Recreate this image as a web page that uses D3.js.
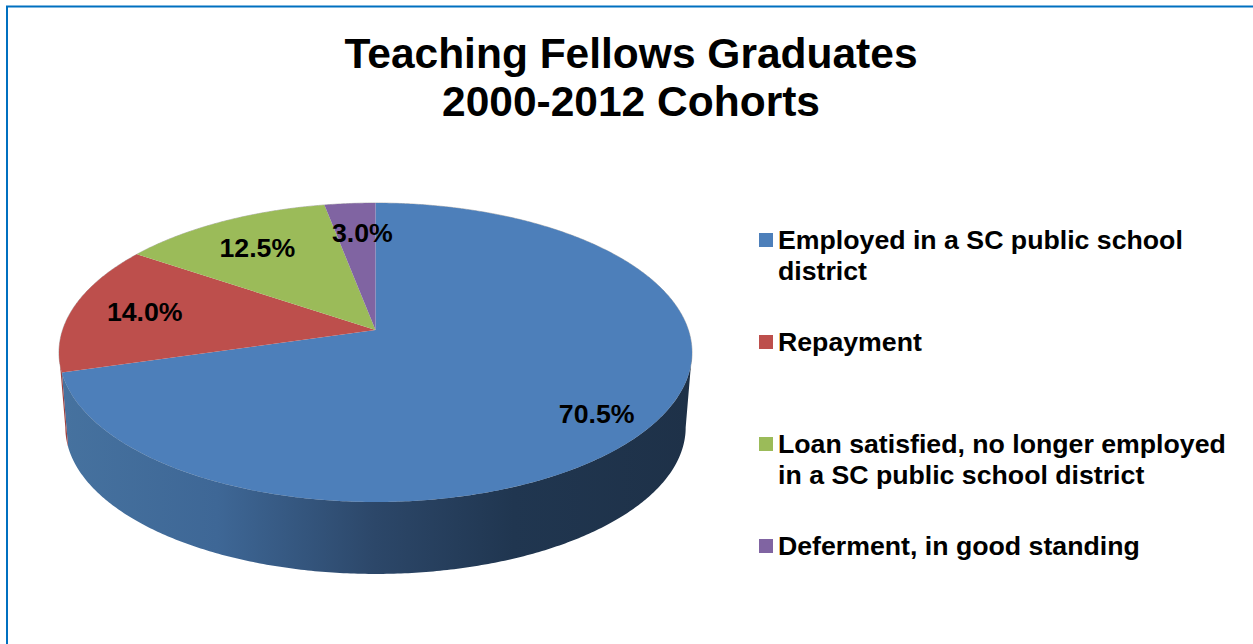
<!DOCTYPE html>
<html>
<head>
<meta charset="utf-8">
<title>Teaching Fellows Graduates</title>
<script src="https://cdn.jsdelivr.net/npm/d3@7"></script>
<style>
  html, body { margin: 0; padding: 0; background: #fff; overflow: hidden; }
  text { font-family: "Liberation Sans", Arial, sans-serif; font-weight: 700; fill: #000; }
</style>
</head>
<body>
<div id="chart"></div>
<script>
const categories = ["Employed in a SC public school district", "Repayment", "Loan satisfied, no longer employed in a SC public school district", "Deferment, in good standing"];
const legendLines = [["Employed in a SC public school", "district"], ["Repayment"], ["Loan satisfied, no longer employed", "in a SC public school district"], ["Deferment, in good standing"]];
const values = [70.5, 14.0, 12.5, 3.0];
const titleLines = ["Teaching Fellows Graduates", "2000-2012 Cohorts"];
const colors = ["#4d7fba", "#bd4f4c", "#9bbb59", "#8064a2"];

const width = 1253, height = 644;

const svg = d3.select("#chart").append("svg")
  .attr("width", width)
  .attr("height", height)
  .style("display", "block");

// frame around the slide, only the top and left edges are in the picture
svg.append("path")
  .attr("d", `M7,${height}V6.5H${width}`)
  .attr("fill", "none")
  .attr("stroke", "#0070c0")
  .attr("stroke-width", 2);

svg.selectAll(".title").data(titleLines).join("text")
  .attr("class", "title")
  .attr("x", 631)
  .attr("y", (d, i) => 67.5 + i * 48)
  .attr("text-anchor", "middle")
  .attr("font-size", 42.5)
  .text(d => d);

// pie is tilted with perspective, so map disc coords to the screen by hand
const cx = 375.5, cy = 330, rimX = 312.9, rimY = 146.1, persp = 0.1505;
const depthDrop = 75.4, depthScale = 0.98;

let project = (angle, r, base) => {
  const u = r * Math.sin(angle), v = -r * Math.cos(angle);
  const w = 1 - persp * v;
  const s = base ? depthScale : 1;
  return [cx + s * rimX * u / w, cy + (base ? depthDrop : 0) + s * rimY * v / w];
};

const pie = d3.pie().sort(null).value(d => d);
const arcs = pie(values);
const line = d3.line();

let angles = (a0, a1) => {
  const n = Math.max(2, Math.ceil((a1 - a0) / 0.01));
  return d3.range(n + 1).map(i => a0 + (a1 - a0) * i / n);
};

// the side wall, from the widest point on the right round to the widest on the left
const wallStart = Math.acos(-persp), wallEnd = 2 * Math.PI - wallStart;

const grad = svg.append("defs").append("linearGradient")
  .attr("id", "wallBlue")
  .attr("gradientUnits", "userSpaceOnUse")
  .attr("x1", 60).attr("x2", 690).attr("y1", 0).attr("y2", 0);
[[0, "#46729f"], [0.25, "#3e6796"], [0.5, "#2c4769"], [0.72, "#203650"], [1, "#1e3148"]].forEach(s => {
  grad.append("stop").attr("offset", s[0]).attr("stop-color", s[1]);
});

let wallPath = (a0, a1) => {
  const list = angles(a0, a1);
  const top = list.map(a => project(a, 1, false));
  const bottom = list.slice().reverse().map(a => project(a, 1, true));
  return line(top.concat(bottom)) + "Z";
};

// pale fringe on the rim, the original is a little soft there
svg.append("path")
  .attr("d", line(angles(0, 2 * Math.PI).map(a => project(a, 1, false))) + "Z")
  .attr("fill", "none")
  .attr("stroke", "#bbb")
  .attr("stroke-width", 1);

const walls = arcs
  .filter(d => d.endAngle > wallStart && d.startAngle < wallEnd)
  .map(d => ({
    index: d.index,
    a0: Math.max(d.startAngle, wallStart),
    a1: Math.min(d.endAngle, wallEnd)
  }));

svg.selectAll(".wall").data(walls).join("path")
  .attr("class", "wall")
  .attr("d", d => wallPath(d.a0, d.a1))
  .attr("fill", d => d.index === 0 ? "url(#wallBlue)" : d3.color(colors[d.index]).darker(0.5));

svg.selectAll(".slice").data(arcs).join("path")
  .attr("class", "slice")
  .attr("d", d => {
    const rim = angles(d.startAngle, d.endAngle).map(a => project(a, 1, false));
    return line([[cx, cy]].concat(rim)) + "Z";
  })
  .attr("fill", (d, i) => colors[i]);

// value labels, placed along the slice middle and nudged like the original
const labelNudge = [[17, 12], [0, -1], [1, 3], [7, 2]];

svg.selectAll(".value").data(arcs).join("text")
  .attr("class", "value")
  .attr("x", (d, i) => project((d.startAngle + d.endAngle) / 2, 0.76, false)[0] + labelNudge[i][0])
  .attr("y", (d, i) => project((d.startAngle + d.endAngle) / 2, 0.76, false)[1] + labelNudge[i][1] + 9)
  .attr("text-anchor", "middle")
  .attr("font-size", 26.7)
  .text(d => d.value.toFixed(1) + "%");

const legendY = d3.scalePoint().domain(categories).range([240, 546]);

let legend = svg.selectAll(".legend").data(categories).join("g")
  .attr("class", "legend")
  .attr("transform", d => `translate(759,${legendY(d)})`);

legend.append("rect")
  .attr("y", -7)
  .attr("width", 14)
  .attr("height", 14)
  .attr("fill", (d, i) => colors[i]);

legend.selectAll("text").data((d, i) => legendLines[i]).join("text")
  .attr("x", 19)
  .attr("y", (d, i) => 9 + i * 30.5)
  .attr("font-size", 26.7)
  .text(d => d);
</script>
</body>
</html>
